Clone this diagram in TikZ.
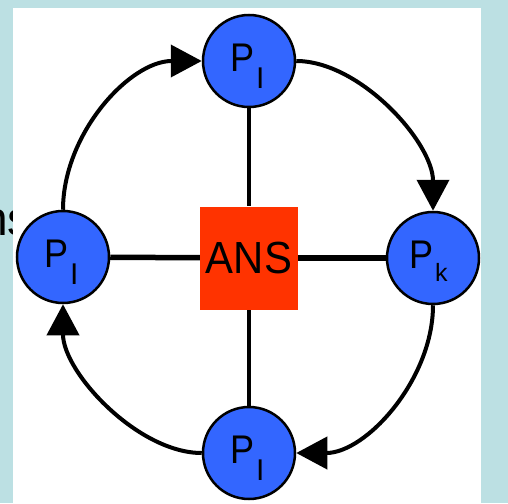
\documentclass[tikz,border=0pt]{standalone}
\usepackage{fontspec}
\setmainfont{Liberation Sans}
\usetikzlibrary{arrows.meta}
\definecolor{bgblue}{HTML}{BCE0E3}
\definecolor{pblue}{HTML}{3366FF}
\definecolor{ansred}{HTML}{FF3300}
% #1 horizontal offset, #2 subscript, #3 subscript drop, #4 subscript size
\newcommand{\plab}[4]{\makebox[0pt][l]{\hspace{#1}\raisebox{-10pt}[0pt][0pt]{\fontsize{40}{40}\selectfont\scalebox{0.9}[1]{P}\kern2pt\raisebox{-#3}{\fontsize{#4}{#4}\selectfont #2}}}}
\tikzset{
  proc/.style={circle, draw=black, line width=2.5pt, fill=pblue, minimum size=92pt, inner sep=0pt},
  ansbox/.style={rectangle, fill=ansred, minimum width=98pt, minimum height=103pt, inner sep=0pt},
  vline/.style={line width=3.5pt},
  hline/.style={line width=5.5pt},
  ringarrow/.style={line width=4pt, -{Triangle[length=31pt,width=32pt]}}
}
\begin{document}
\begin{tikzpicture}[x=1pt, y=-1pt]
\useasboundingbox (0,0) rectangle (508,503);
\fill[bgblue] (0,0) rectangle (508,503);
\node[anchor=base west, inner sep=0pt, font=\fontsize{48}{48}\selectfont] (frag) at (-19,235) {ns};
\fill[white] (13,8) rectangle (481,503);

\node[proc] (pt) at (249,61) {\plab{-19pt}{I}{17pt}{30}};
\node[proc] (pl) at (63,257) {\plab{-19pt}{I}{17pt}{30}};
\node[proc] (pr) at (433,258) {\plab{-24pt}{k}{13pt}{25}};
\node[proc] (pb) at (249,453) {\plab{-19pt}{I}{17pt}{30}};
\node[ansbox] (ans) at (249,258) {\fontsize{45}{45}\selectfont\scalebox{0.93}[1]{ANS}};

\draw[vline] (pt) -- (ans);
\draw[vline] (pb) -- (ans);
\draw[hline] (pl) -- (ans);
\draw[hline] (pr) -- (ans);

\draw[ringarrow] (pl.north) .. controls +(0,-76) and +(-72,0) .. (pt.west);
\draw[ringarrow] (pt.east) .. controls +(64,0) and +(0,-68) .. (pr.north);
\draw[ringarrow] (pr.south) .. controls +(0,74) and +(70,0) .. (pb.east);
\draw[ringarrow] (pb.west) .. controls +(-64,0) and +(0,68) .. (pl.south);
\end{tikzpicture}
\end{document}
